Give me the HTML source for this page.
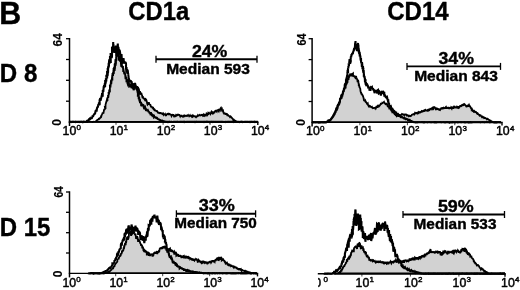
<!DOCTYPE html>
<html><head><meta charset="utf-8"><title>Figure B</title>
<style>
html,body{margin:0;padding:0;background:#fff;}
svg{display:block;}
text{font-family:'Liberation Sans', Arial, Helvetica, sans-serif;fill:#000;stroke:#000;stroke-width:0.4px;stroke-linejoin:round;}
.t{stroke-width:0.45px;font-weight:normal;}
.r{stroke-width:0.15px;}
</style></head>
<body>
<svg width="520" height="290">
<defs><clipPath id="c4"><rect x="318" y="274" width="40" height="16"/></clipPath></defs>
<rect width="520" height="290" fill="#fff"/>
<text transform="translate(-0.8,23.7) scale(0.98,1)" font-size="31" font-weight="bold" text-anchor="start" >B</text>
<text transform="translate(128.3,20.0) scale(0.952,1)" font-size="25" font-weight="bold" text-anchor="start" >CD1a</text>
<text transform="translate(387.2,20.0) scale(0.962,1)" font-size="25" font-weight="bold" text-anchor="start" >CD14</text>
<text transform="translate(-0.2,82.2) scale(0.92,1)" font-size="26.2" font-weight="bold" text-anchor="start" >D 8</text>
<text transform="translate(-0.3,235.5) scale(0.915,1)" font-size="26.2" font-weight="bold" text-anchor="start" >D 15</text>
<line x1="68.8" y1="122" x2="258.5" y2="122" stroke="#000" stroke-width="1.4"/>
<line x1="257.8" y1="122" x2="257.8" y2="125" stroke="#000" stroke-width="1.4"/>
<line x1="69.5" y1="38.0" x2="69.5" y2="126" stroke="#000" stroke-width="1.5"/>
<line x1="66.0" y1="38.7" x2="69.5" y2="38.7" stroke="#000" stroke-width="1.3"/>
<line x1="66.0" y1="59.5" x2="69.5" y2="59.5" stroke="#000" stroke-width="1.3"/>
<line x1="66.0" y1="80.3" x2="69.5" y2="80.3" stroke="#000" stroke-width="1.3"/>
<line x1="66.0" y1="101.2" x2="69.5" y2="101.2" stroke="#000" stroke-width="1.3"/>
<text x="62.6" y="135.3" font-size="12.3" class="t">10<tspan dx="0.2" dy="-4.9" font-size="8">0</tspan></text>
<line x1="116.0" y1="122" x2="116.0" y2="124.8" stroke="#000" stroke-width="1" stroke-opacity="0.75"/>
<text x="109.7" y="135.3" font-size="12.3" class="t">10<tspan dx="0.2" dy="-4.9" font-size="8">1</tspan></text>
<line x1="163.1" y1="122" x2="163.1" y2="124.8" stroke="#000" stroke-width="1" stroke-opacity="0.75"/>
<text x="156.8" y="135.3" font-size="12.3" class="t">10<tspan dx="0.2" dy="-4.9" font-size="8">2</tspan></text>
<line x1="210.1" y1="122" x2="210.1" y2="124.8" stroke="#000" stroke-width="1" stroke-opacity="0.75"/>
<text x="203.8" y="135.3" font-size="12.3" class="t">10<tspan dx="0.2" dy="-4.9" font-size="8">3</tspan></text>
<text x="250.9" y="135.3" font-size="12.3" class="t">10<tspan dx="0.2" dy="-4.9" font-size="8">4</tspan></text>
<polygon points="69.0,121.8 69.3,121.9 69.8,121.9 70.3,121.9 70.4,121.8 71.0,122.0 71.2,121.9 71.9,121.9 72.4,121.8 72.4,122.0 73.0,121.8 73.3,122.0 73.8,121.8 74.1,121.8 74.6,121.9 74.9,121.8 75.4,121.8 75.6,121.8 76.2,122.0 76.4,121.9 77.2,122.0 77.3,121.8 77.9,121.9 78.2,122.0 78.7,121.9 79.0,121.8 79.6,122.0 79.8,121.9 80.1,121.8 80.6,121.9 81.0,121.8 81.5,121.9 81.8,121.8 82.3,121.9 82.5,121.9 82.8,121.9 83.5,121.8 83.8,122.0 84.0,121.8 84.8,121.9 85.0,121.9 85.3,122.0 86.0,121.9 86.2,121.9 86.6,121.8 86.8,122.0 87.6,121.9 87.9,122.0 88.2,121.9 88.6,121.9 89.2,121.8 89.2,121.9 89.8,121.9 90.1,121.8 90.7,121.9 91.0,121.9 91.3,121.8 91.8,121.8 92.3,122.0 92.8,121.9 93.2,121.8 93.2,121.9 93.6,121.8 94.1,121.9 94.7,121.8 95.0,121.8 95.4,121.5 95.7,121.2 96.2,121.0 96.7,120.6 97.0,120.2 97.3,120.0 98.1,119.6 98.2,119.5 98.9,119.3 98.9,118.6 99.7,118.4 100.0,118.0 100.4,117.8 101.0,116.5 101.2,116.6 101.7,114.9 102.0,114.4 102.5,113.5 102.7,112.4 103.4,113.5 103.8,111.1 104.0,110.0 104.2,110.6 104.2,108.7 104.4,109.7 105.1,108.7 104.9,107.2 105.5,107.5 105.5,106.1 105.6,104.3 106.0,103.1 106.0,102.9 106.4,101.4 106.5,101.0 106.9,100.3 106.7,102.0 107.1,98.4 107.5,101.1 107.4,97.3 108.0,97.9 108.0,95.0 108.3,97.6 108.6,94.7 108.6,93.1 108.5,91.9 108.7,94.9 109.1,93.2 109.1,93.0 109.2,89.5 109.6,91.7 109.9,91.6 109.9,86.5 109.8,85.7 110.4,84.8 110.5,87.5 110.6,84.1 110.6,86.0 110.7,83.8 110.9,80.9 111.2,80.0 111.3,84.2 111.7,79.1 111.5,81.9 111.7,79.9 112.2,76.2 112.1,75.2 112.4,80.4 112.4,73.8 112.9,73.4 113.1,72.2 113.3,72.6 113.1,76.0 113.4,70.3 113.7,69.0 113.5,68.0 113.8,73.9 114.1,69.4 114.0,66.7 114.7,70.9 114.6,64.0 114.8,63.8 114.9,69.4 115.2,65.6 115.3,61.6 115.3,61.0 115.5,59.2 115.7,65.7 116.0,61.4 116.0,63.7 116.1,57.0 116.4,55.0 116.4,60.9 116.7,54.8 116.8,56.0 116.6,52.7 116.8,51.9 116.9,53.4 117.3,49.5 117.5,49.8 117.7,50.6 117.6,47.0 117.6,53.8 117.8,56.5 118.4,55.1 118.3,56.4 118.6,51.4 118.8,52.0 118.8,59.6 119.0,60.5 119.7,55.5 119.9,60.6 120.0,61.7 120.0,60.8 120.2,59.3 120.6,58.0 120.6,59.6 121.2,66.7 121.3,63.3 121.5,66.9 121.7,63.7 121.8,63.6 122.2,67.2 122.3,67.3 122.6,66.5 123.0,66.0 123.2,71.9 123.5,69.1 123.4,69.0 123.9,71.5 124.1,73.2 124.4,74.2 124.6,72.1 124.6,74.2 125.0,73.0 125.5,79.1 125.6,75.3 125.5,75.3 126.2,78.1 126.4,77.1 126.4,82.3 126.9,81.5 127.0,79.0 127.4,83.3 128.0,84.9 128.2,86.5 128.5,82.5 129.0,83.0 129.2,86.6 129.9,86.3 130.1,84.7 130.6,84.3 131.1,84.3 131.3,88.2 131.8,85.4 132.0,85.0 132.5,88.5 132.9,87.7 133.3,86.6 133.4,90.1 133.8,88.9 134.2,85.7 134.8,85.6 135.0,85.5 135.3,87.9 135.6,86.0 136.2,86.6 136.3,86.3 136.6,87.8 137.3,89.0 137.5,90.5 138.0,87.0 138.4,88.4 138.9,89.1 139.4,92.6 139.6,94.6 140.0,91.0 140.4,94.7 140.7,93.5 141.4,93.5 141.7,94.3 142.0,95.0 142.6,98.0 142.8,96.1 143.1,97.9 143.5,98.1 143.8,98.6 144.4,98.7 144.7,98.7 145.3,101.0 145.7,100.2 146.0,99.5 146.3,99.9 146.9,101.9 147.1,103.3 147.5,104.5 147.8,104.1 148.5,104.1 148.5,103.0 149.0,103.0 149.2,104.0 149.8,104.5 150.4,104.9 150.7,105.8 151.1,107.4 151.5,106.3 151.9,107.1 152.2,107.5 152.7,107.9 153.0,107.0 153.5,109.3 153.9,109.6 154.1,108.7 154.8,110.0 154.8,109.9 155.4,111.1 155.6,110.5 156.3,110.9 156.5,111.1 157.0,111.0 157.6,111.9 157.8,112.5 158.3,112.7 158.5,112.0 158.9,113.6 159.6,112.2 159.7,113.1 160.3,113.2 160.7,112.9 161.0,113.0 161.5,113.3 161.8,113.4 162.3,113.4 162.5,114.8 163.2,113.7 163.6,114.6 164.0,113.7 164.1,114.6 164.7,114.3 165.0,114.0 165.2,114.7 165.8,115.5 166.3,115.3 166.5,114.5 166.8,114.3 167.5,113.8 167.9,114.0 168.3,113.8 168.5,114.5 169.0,113.5 169.2,114.2 169.6,113.9 170.4,114.7 170.4,114.2 171.2,115.2 171.5,115.9 172.0,114.8 172.3,114.7 172.5,114.9 173.0,115.0 173.3,115.0 173.8,116.0 174.1,115.5 174.6,115.7 175.3,115.4 175.3,116.2 176.1,115.8 176.3,114.9 177.0,115.3 177.4,114.9 177.4,115.5 178.0,114.5 178.5,114.7 178.8,114.8 179.2,114.9 179.9,116.1 179.9,115.1 180.3,116.3 180.7,115.6 181.1,115.5 181.9,116.3 182.3,116.5 182.5,116.6 183.0,116.0 183.3,116.6 184.1,115.8 184.2,116.3 184.7,116.3 184.9,116.1 185.5,115.8 186.1,115.5 186.4,115.7 186.9,116.1 187.3,116.0 187.8,115.2 188.0,115.0 188.6,116.2 188.6,115.1 189.2,116.2 189.8,115.6 190.0,115.3 190.2,115.8 190.9,115.8 191.0,116.7 191.4,116.1 191.8,116.6 192.3,115.7 192.7,116.6 193.3,115.9 193.8,116.9 194.0,116.0 194.4,116.1 194.7,116.1 195.4,116.7 195.4,116.3 196.0,116.4 196.5,116.9 196.9,116.6 197.4,116.0 197.5,116.4 197.9,115.4 198.2,115.8 198.8,115.5 199.4,115.1 199.5,115.8 200.0,115.0 200.5,115.2 200.8,115.4 201.4,114.9 201.5,115.0 202.2,114.7 202.6,115.1 203.0,115.9 203.4,115.6 203.8,115.8 204.0,114.4 204.6,114.9 204.9,115.3 205.1,115.1 205.7,115.5 206.0,114.0 206.4,115.5 206.6,113.8 207.2,114.5 207.4,114.9 208.1,113.7 208.2,113.2 208.7,113.7 209.1,113.0 209.6,113.7 209.8,112.7 210.5,113.9 211.0,112.5 211.1,112.3 211.7,113.6 212.0,112.0 212.6,112.7 212.8,113.2 213.2,112.5 213.7,113.0 214.2,112.2 214.3,112.9 214.9,110.8 215.2,111.8 215.6,110.9 216.0,110.0 216.1,110.8 216.7,111.5 217.0,109.8 217.3,110.8 217.8,109.5 218.4,111.1 218.6,111.3 219.0,109.0 219.4,109.6 220.0,110.3 220.3,108.9 220.5,108.4 221.0,107.8 221.6,109.3 221.9,109.0 222.3,111.7 222.5,110.8 223.0,110.5 223.5,112.8 224.0,113.3 224.1,113.6 224.7,113.3 225.0,113.3 225.3,114.0 225.6,114.1 226.1,114.1 226.3,113.9 227.1,114.2 227.1,114.9 227.5,115.9 228.0,114.5 228.4,115.6 228.8,115.9 229.2,116.0 229.7,116.7 230.0,115.6 230.3,117.3 230.7,116.6 231.4,117.4 231.7,117.8 232.0,118.0 232.6,118.8 232.8,119.1 233.4,119.3 233.4,120.2 234.0,120.0 234.2,120.5 234.6,120.5 235.3,120.7 235.6,121.1 235.7,121.2 236.3,121.4 236.6,121.6 237.0,121.8 237.2,122.0 238.0,121.8 238.2,121.8 238.8,121.8 238.9,122.0 239.7,121.9 239.7,121.9 240.2,121.9 240.4,121.9 241.2,122.0 241.7,122.0 241.9,121.8 242.4,121.9 242.6,122.0 243.2,121.8 243.4,121.8 244.0,121.8 244.6,121.9 244.8,121.9 245.1,121.8 245.7,121.8 246.0,121.8 246.4,121.8 246.9,121.8 247.4,121.8 247.6,121.9 247.9,121.8 248.5,121.9 249.0,121.9 249.2,121.8 249.4,121.8 249.9,121.8 250.4,121.8 250.8,121.9 251.1,121.9 251.6,121.8 252.0,122.0 252.2,121.8 252.9,121.8 253.1,121.8 253.8,121.9 254.1,121.8 254.2,121.9 254.6,121.8 255.3,121.8 255.4,121.9 256.1,121.8 256.3,121.8 256.6,121.8 257.0,121.8 257.8,121.8 258.0,121.8" fill="#d2d2d2" stroke="#000" stroke-width="1.8" stroke-linejoin="miter" stroke-miterlimit="2.5"/>
<polyline points="69.0,121.8 69.5,121.8 69.7,121.8 70.1,122.0 70.6,121.9 71.0,121.9 71.6,121.8 71.7,121.8 72.1,121.8 72.8,121.8 72.9,121.8 73.7,121.8 73.9,121.8 74.3,121.8 74.8,121.8 75.1,121.9 75.5,122.0 75.7,121.8 76.3,122.0 76.9,121.8 77.2,121.9 77.4,122.0 78.1,121.8 78.4,121.8 78.8,121.8 79.3,121.9 79.5,122.0 79.8,121.8 80.3,121.9 80.9,121.8 81.2,121.9 81.4,121.8 81.9,121.8 82.3,121.8 82.9,121.8 83.0,122.0 83.4,121.8 84.2,121.9 84.5,121.8 84.5,121.8 85.1,121.9 85.6,121.8 86.0,121.8 86.4,121.5 86.7,121.2 87.0,120.8 87.6,120.5 88.2,120.3 88.5,120.1 88.6,120.3 89.0,119.2 89.6,119.0 90.0,118.5 90.2,119.1 90.7,118.6 91.0,118.3 91.7,118.2 92.0,117.9 92.6,116.2 92.6,116.1 93.2,116.0 93.4,115.4 94.0,114.5 94.2,114.2 94.9,113.4 95.1,113.4 95.4,111.8 95.7,110.7 96.1,110.4 96.7,110.5 97.0,108.0 97.2,107.8 97.8,106.4 97.8,107.6 97.9,106.7 98.4,104.2 98.7,105.4 99.0,102.3 99.3,104.8 99.7,104.2 99.6,100.2 100.0,99.0 100.5,99.1 100.5,100.8 101.0,98.7 100.9,98.9 101.1,98.5 101.8,95.1 101.7,97.1 102.1,93.2 102.4,95.6 102.7,95.6 102.8,90.0 103.0,90.2 103.2,90.1 103.3,91.8 103.7,86.7 103.8,86.6 104.2,85.2 104.1,84.9 104.4,87.7 104.8,83.3 104.7,83.2 105.1,87.0 105.2,80.0 105.4,84.0 105.5,83.4 105.8,82.2 105.9,78.3 106.3,80.8 106.3,81.5 106.4,74.7 106.3,77.6 106.9,75.0 107.1,78.4 107.1,71.4 107.3,76.5 107.1,70.9 107.7,75.7 107.7,68.0 108.0,73.2 108.1,71.3 108.1,66.9 108.2,66.4 108.3,67.0 108.5,68.2 108.7,62.9 108.9,63.5 108.9,66.7 109.1,60.8 109.5,59.8 109.3,58.7 109.8,61.2 109.9,63.5 110.0,56.0 110.2,60.9 110.6,58.1 110.8,63.0 110.6,53.1 110.7,54.2 110.9,57.4 111.3,58.4 111.4,54.0 111.7,57.7 112.0,56.3 112.0,47.0 112.1,49.4 112.4,53.2 112.7,46.1 112.6,46.9 113.0,50.8 113.2,42.0 113.3,52.3 113.5,44.4 113.8,51.1 113.7,50.2 113.8,48.1 114.4,48.6 114.4,49.1 114.5,48.0 114.7,53.0 115.3,47.4 115.9,46.5 116.0,45.5 116.3,54.8 116.7,54.9 117.4,48.7 117.8,43.5 118.1,53.9 118.1,48.3 118.4,47.0 118.6,48.6 118.8,54.8 118.8,53.2 119.4,49.6 119.5,50.0 119.8,50.8 120.2,53.5 120.6,56.2 121.2,58.0 121.5,54.0 121.8,58.8 122.2,62.7 122.7,63.6 123.1,61.6 123.5,58.0 124.0,62.5 124.4,61.3 124.7,62.9 125.1,63.1 125.5,62.0 125.9,63.2 126.0,63.8 126.0,69.8 126.2,69.2 126.3,72.7 126.5,67.1 126.8,72.3 127.3,69.6 127.4,74.0 127.5,70.0 127.8,70.8 128.0,72.9 128.1,74.3 128.3,73.3 128.2,74.3 128.6,77.1 128.7,79.9 128.6,82.5 128.6,77.7 129.1,82.1 129.0,79.0 129.5,82.3 129.9,80.5 130.0,80.7 130.6,80.7 131.0,81.0 131.5,83.1 131.8,82.9 132.2,85.6 132.7,83.9 133.0,84.0 133.5,88.2 133.9,88.5 134.3,85.4 134.7,84.2 135.0,83.0 135.6,85.7 136.0,87.5 136.4,89.6 136.7,88.2 137.0,86.0 137.2,90.8 137.2,88.0 137.6,89.0 137.5,91.7 137.9,93.1 138.0,91.0 137.9,96.8 138.3,93.0 138.6,97.0 138.6,95.1 138.6,94.9 138.8,99.1 138.9,97.5 139.0,97.0 139.6,101.4 139.8,99.0 140.1,103.3 140.3,101.7 140.7,102.4 141.0,102.0 141.3,106.2 141.6,104.4 142.0,105.2 142.5,104.6 143.0,105.0 143.4,105.2 143.9,107.8 144.4,109.0 144.6,107.5 145.0,107.0 145.5,108.6 145.8,109.5 146.1,109.3 146.5,109.5 146.7,111.1 147.5,109.7 147.7,110.9 148.0,110.5 148.6,111.8 148.7,112.3 149.0,111.6 149.7,113.3 149.9,112.5 150.3,113.6 150.8,113.0 151.0,113.0 151.3,114.5 151.6,114.9 152.2,114.8 152.4,115.4 152.7,115.0 153.1,115.3 153.7,116.1 154.0,116.0 154.1,117.2 154.6,116.8 155.2,117.2 155.5,117.6 155.8,117.5 156.1,117.5 156.7,118.1 157.0,118.0 157.2,118.3 157.7,118.8 158.2,119.1 158.6,119.4 159.0,119.5 159.1,119.7 159.5,119.8 160.0,120.0 160.5,120.4 160.6,120.8 161.0,120.9 161.8,120.9 162.1,120.6 162.4,120.8 163.0,121.0 163.1,121.0 163.6,121.3 163.9,121.4 164.2,121.5 164.7,121.4 165.1,121.7 165.5,121.7 166.0,121.8 166.3,121.9 166.7,121.9 167.4,122.0 167.4,121.9 168.1,121.9 168.4,121.9 169.0,121.9 169.0,121.9 169.7,121.9 170.2,121.9 170.2,121.8 170.6,121.9 171.4,121.8 171.8,121.8 172.1,121.9 172.2,121.8 173.0,122.0 173.2,122.0 173.7,121.8 173.8,121.8 174.4,121.8 174.7,121.8 175.4,122.0 175.6,122.0 175.8,121.9 176.6,121.9 177.0,121.9 177.1,121.9 177.5,121.8 178.0,121.9 178.6,121.9 178.6,121.8 179.3,122.0 179.7,121.8 180.1,121.9 180.3,121.8 180.9,121.9 181.4,121.8 181.8,121.8 182.0,121.8 182.5,122.0 183.0,121.9 183.2,121.9 183.6,121.9 184.1,122.0 184.3,121.8 184.6,122.0 185.2,121.8 185.8,121.9 186.1,122.0 186.4,121.9 186.9,122.0 187.3,121.8 187.5,121.8 188.2,121.8 188.3,121.8 188.7,121.9 189.1,121.9 189.7,121.9 190.2,121.9 190.5,121.9 190.7,121.8 191.4,121.8 191.5,121.9 192.2,121.9 192.6,121.9 193.0,121.9 193.1,121.9 193.5,121.8 194.0,121.8 194.3,122.0 194.7,121.8 195.0,121.9 195.8,121.9 195.9,122.0 196.5,121.8 196.6,121.9 197.3,121.8 197.6,121.8 198.2,121.9 198.3,121.8 198.9,121.8 199.4,121.8 199.6,121.9 200.2,121.8 200.4,121.8 200.9,121.9 201.0,121.8 201.7,121.8 202.2,121.8 202.4,122.0 202.9,122.0 203.2,121.8 203.6,121.8 204.0,122.0 204.3,121.9 204.7,121.9 205.2,122.0 205.6,121.8 205.9,121.8 206.4,121.9 206.7,121.9 207.4,121.9 207.4,121.8 208.2,121.9 208.3,121.9 209.0,121.8 209.3,121.8 209.4,121.9 210.2,121.9 210.2,122.0 210.7,121.8 211.4,121.8 211.5,121.8 212.0,122.0 212.2,121.8 212.7,121.8 213.2,122.0 213.5,121.9 214.2,121.8 214.5,121.8 214.8,121.8 215.1,121.9 215.6,121.9 215.8,121.9 216.3,121.8 216.7,121.8 217.3,121.9 217.4,121.8 218.0,121.9 218.2,121.9 218.9,121.8 219.2,121.8 219.4,121.8 219.9,121.9 220.6,121.9 221.0,121.9 221.0,121.8 221.5,121.8 221.8,121.9 222.3,121.9 222.7,121.8 223.0,121.8 223.4,122.0 224.0,122.0 224.2,122.0 224.9,121.9 225.3,121.8 225.6,122.0 226.1,121.8 226.4,121.9 226.7,122.0 227.2,121.9 227.4,121.8 228.2,121.9 228.6,121.8 228.8,121.8 229.0,121.8 229.8,121.9 229.8,121.9 230.2,121.9 230.9,121.9 231.1,121.8 231.5,121.8 232.1,121.8 232.2,121.8 232.6,121.8 233.2,121.9 233.6,121.9 233.8,122.0 234.4,121.8 234.7,121.8 235.2,121.9 235.7,121.9 236.0,121.9 236.2,122.0 236.9,121.9 237.0,121.9 237.5,121.8 237.9,121.9 238.4,121.8 238.9,121.8 239.3,122.0 239.6,121.9 240.0,121.8 240.3,121.9 241.0,121.8 241.1,121.8 241.8,121.9 242.0,121.8 242.4,122.0 242.7,121.8 243.0,121.9 243.7,122.0 243.8,122.0 244.3,121.8 244.8,121.9 245.0,121.9 245.4,122.0 245.8,121.8 246.2,121.8 246.7,121.9 247.1,121.8 247.6,121.9 248.0,121.8 248.4,121.9 248.6,121.9 249.3,121.9 249.5,122.0 250.1,121.8 250.6,122.0 250.7,121.9 251.0,122.0 251.8,121.9 252.1,121.9 252.5,121.9 252.9,121.8 253.0,121.8 253.5,121.8 254.1,121.8 254.6,122.0 254.8,121.8 255.2,121.8 255.8,121.8 255.8,121.9 256.3,121.8 256.8,121.9 257.1,122.0 257.6,121.8 258.0,121.8" fill="none" stroke="#000" stroke-width="2.1" stroke-linejoin="miter" stroke-miterlimit="2.5"/>
<text class="r" transform="translate(61.8,46.5) rotate(-90) scale(1.0,1)" font-size="12" font-weight="bold" text-anchor="start">64</text>
<text class="r" transform="translate(61.3,125.8) rotate(-90) scale(1.0,1)" font-size="12" font-weight="bold" text-anchor="start">0</text>
<line x1="156" y1="59.3" x2="257" y2="59.3" stroke="#000" stroke-width="1.9"/>
<line x1="156" y1="55.8" x2="156" y2="62.8" stroke="#000" stroke-width="1.3"/>
<line x1="257" y1="55.8" x2="257" y2="62.8" stroke="#000" stroke-width="1.3"/>
<text transform="translate(209.6,56.5) scale(1.03,1)" font-size="17.2" font-weight="bold" text-anchor="middle" >24%</text>
<text transform="translate(208,74.1) scale(1.05,1)" font-size="14.8" font-weight="bold" text-anchor="middle" >Median 593</text>
<line x1="311.40000000000003" y1="122.4" x2="502.7" y2="122.4" stroke="#000" stroke-width="1.4"/>
<line x1="502.0" y1="122.4" x2="502.0" y2="125.4" stroke="#000" stroke-width="1.4"/>
<line x1="312.1" y1="38.0" x2="312.1" y2="126.4" stroke="#000" stroke-width="1.5"/>
<line x1="308.6" y1="38.7" x2="312.1" y2="38.7" stroke="#000" stroke-width="1.3"/>
<line x1="308.6" y1="59.6" x2="312.1" y2="59.6" stroke="#000" stroke-width="1.3"/>
<line x1="308.6" y1="80.6" x2="312.1" y2="80.6" stroke="#000" stroke-width="1.3"/>
<line x1="308.6" y1="101.5" x2="312.1" y2="101.5" stroke="#000" stroke-width="1.3"/>
<text x="306.1" y="135.4" font-size="12.3" class="t">10<tspan dx="0.2" dy="-4.9" font-size="8">0</tspan></text>
<line x1="359.9" y1="122.4" x2="359.9" y2="125.2" stroke="#000" stroke-width="1" stroke-opacity="0.75"/>
<text x="353.6" y="135.4" font-size="12.3" class="t">10<tspan dx="0.2" dy="-4.9" font-size="8">1</tspan></text>
<line x1="407.4" y1="122.4" x2="407.4" y2="125.2" stroke="#000" stroke-width="1" stroke-opacity="0.75"/>
<text x="401.1" y="135.4" font-size="12.3" class="t">10<tspan dx="0.2" dy="-4.9" font-size="8">2</tspan></text>
<line x1="454.8" y1="122.4" x2="454.8" y2="125.2" stroke="#000" stroke-width="1" stroke-opacity="0.75"/>
<text x="448.5" y="135.4" font-size="12.3" class="t">10<tspan dx="0.2" dy="-4.9" font-size="8">3</tspan></text>
<text x="496.0" y="135.4" font-size="12.3" class="t">10<tspan dx="0.2" dy="-4.9" font-size="8">4</tspan></text>
<polygon points="312.0,122.2 312.2,122.2 312.9,122.4 313.1,122.3 313.6,122.3 313.8,122.3 314.3,122.3 315.0,122.3 315.2,122.4 315.4,122.3 315.7,122.2 316.3,122.3 316.9,122.2 317.2,122.3 317.3,122.2 317.7,122.2 318.6,122.3 318.6,122.3 319.3,122.4 319.7,122.3 320.0,122.3 320.5,122.2 320.5,122.4 321.2,122.3 321.5,122.3 322.1,122.3 322.4,122.3 322.8,122.2 323.0,122.4 323.7,122.3 323.8,122.3 324.1,122.2 324.5,122.3 324.9,122.4 325.3,122.4 325.9,122.4 326.2,122.3 326.6,122.3 327.0,122.2 327.6,122.0 327.6,121.8 328.3,121.5 328.4,121.3 328.8,121.0 329.3,120.7 330.0,120.3 330.2,120.1 330.5,120.1 331.0,119.5 331.5,119.1 331.7,118.4 332.2,117.8 332.7,117.3 333.0,116.7 333.1,116.1 333.5,116.2 334.0,115.0 334.1,114.4 334.6,114.4 335.0,112.6 335.6,112.3 335.7,110.9 336.2,110.1 336.7,110.2 337.0,109.7 337.4,108.8 337.5,107.3 338.0,106.0 338.3,105.2 338.4,105.8 338.8,104.4 339.0,103.4 339.4,103.8 339.8,102.1 340.1,100.4 340.2,99.7 340.5,98.8 341.0,98.0 341.5,98.0 341.8,98.5 341.8,95.9 342.2,95.2 342.5,95.3 342.5,94.8 343.0,93.2 343.0,91.8 343.5,91.0 343.6,91.8 343.9,89.5 344.2,88.9 344.6,88.9 345.0,87.6 345.4,86.6 345.6,88.4 345.7,85.6 346.0,84.0 346.3,84.0 346.3,82.7 346.7,84.0 347.2,82.1 347.1,81.8 347.4,82.8 347.8,78.8 348.0,78.0 348.5,79.9 348.8,76.6 349.2,76.8 349.6,75.5 350.0,74.5 350.6,75.1 350.9,74.3 351.2,74.4 351.5,74.8 351.8,76.2 352.1,73.9 352.8,73.7 353.0,73.5 353.1,75.9 353.9,76.0 354.1,76.6 354.5,75.4 354.8,77.6 355.2,76.7 355.8,79.0 356.0,76.0 356.3,77.3 356.7,78.7 357.3,79.3 357.6,82.1 358.0,80.0 358.4,81.4 358.4,81.7 358.4,82.4 359.0,85.8 358.8,85.5 359.1,85.2 359.5,87.2 359.6,87.2 359.8,87.3 360.0,88.0 360.3,88.9 360.5,91.2 360.9,92.7 361.2,92.7 361.6,94.6 361.6,93.8 361.9,94.3 362.6,95.5 362.7,95.4 363.0,96.0 363.6,98.1 363.7,98.8 364.0,100.3 364.6,100.3 365.1,101.1 365.3,100.7 365.7,101.7 366.0,102.0 366.4,102.4 367.0,103.9 367.4,104.1 367.8,103.6 368.1,105.1 368.6,105.9 369.0,104.8 369.0,106.3 369.6,106.6 370.0,106.0 370.5,106.3 370.7,106.8 371.2,107.2 371.8,106.9 371.8,107.0 372.6,107.7 372.9,108.2 373.3,108.1 373.5,108.1 374.0,108.0 374.5,107.8 374.9,107.7 375.2,108.4 375.7,108.0 375.8,108.2 376.3,106.9 376.7,107.1 377.2,106.4 377.5,107.7 378.0,106.0 378.6,106.1 378.8,105.5 379.1,105.4 379.3,106.0 379.8,105.4 380.4,104.6 380.6,104.3 381.0,103.0 381.3,103.8 381.9,103.4 382.2,103.9 382.4,102.8 382.7,102.9 383.5,102.5 383.8,102.2 384.0,102.0 384.2,102.6 384.6,103.0 385.0,103.3 385.7,104.5 385.9,103.7 386.2,105.1 386.5,103.8 387.0,104.0 387.3,104.9 387.6,106.2 388.2,106.7 388.7,106.4 389.1,106.8 389.3,108.4 389.8,108.3 390.0,108.0 390.6,109.7 391.0,109.9 391.3,109.7 391.5,110.7 391.8,110.8 392.3,112.2 393.0,111.9 393.4,112.1 393.4,112.5 394.0,113.0 394.6,114.2 394.8,114.3 395.1,114.3 395.5,114.9 396.1,114.6 396.3,114.8 396.6,115.9 397.1,115.4 397.6,115.8 398.0,116.0 398.3,115.9 398.7,116.0 399.3,115.6 399.4,115.2 400.0,115.7 400.2,115.4 401.0,114.9 401.3,114.6 401.5,114.6 402.0,114.0 402.5,114.3 403.0,114.3 403.2,114.6 403.8,114.6 404.2,115.2 404.4,114.6 404.6,114.7 405.4,114.4 405.8,114.5 406.0,114.5 406.3,114.7 406.6,115.4 407.1,115.0 407.4,115.2 407.8,115.7 408.5,116.2 409.0,115.6 409.2,115.8 409.4,116.2 410.0,116.0 410.6,115.8 410.8,116.1 411.4,115.7 411.7,115.0 411.9,114.8 412.4,114.5 412.8,114.3 413.4,114.2 414.0,114.5 414.2,114.1 414.4,114.2 415.0,113.0 415.3,113.4 415.7,113.1 416.2,113.0 416.8,112.9 417.1,113.4 417.4,112.8 418.2,113.1 418.4,112.4 418.8,112.9 419.2,112.2 419.4,112.2 420.0,112.0 420.5,112.4 420.8,112.3 421.4,111.5 421.8,112.2 421.9,111.7 422.3,111.1 422.9,111.4 423.6,110.8 423.9,111.7 424.1,110.7 424.7,110.3 425.0,110.0 425.5,111.0 425.8,110.2 426.2,110.5 426.5,110.4 427.0,110.4 427.4,110.7 427.9,109.7 428.3,109.6 428.6,110.5 429.3,110.1 429.6,110.0 430.0,109.0 430.3,109.2 430.8,108.7 431.2,108.5 431.5,108.8 432.1,108.1 432.3,109.0 432.9,108.3 433.3,108.7 433.5,107.4 434.0,107.0 434.6,107.2 434.7,107.5 435.1,107.8 435.5,108.7 436.0,108.4 436.2,109.3 436.6,109.0 437.3,108.7 437.4,109.1 438.0,109.0 438.4,109.6 439.0,109.8 439.1,108.8 439.8,110.0 440.1,108.6 440.4,109.6 440.8,109.1 441.1,108.3 441.7,108.1 442.0,108.0 442.4,108.2 442.7,109.2 443.1,108.2 443.5,107.7 444.2,108.1 444.6,107.4 444.6,108.1 445.2,108.1 445.4,107.6 446.0,107.0 446.4,108.1 446.9,108.1 447.0,107.4 447.4,107.9 447.9,107.6 448.5,108.2 449.0,108.4 449.2,107.8 449.7,107.9 450.0,108.0 450.5,108.1 451.0,108.2 451.1,107.8 451.7,108.7 452.1,107.3 452.6,107.4 453.0,107.7 453.2,108.1 453.4,108.1 454.0,106.5 454.5,106.6 454.9,108.2 455.0,107.9 455.7,107.3 456.0,107.2 456.2,107.9 456.8,106.9 457.4,108.4 457.5,107.8 458.0,107.0 458.5,107.0 458.8,107.9 459.0,107.8 459.4,106.9 459.8,106.2 460.4,105.8 460.7,106.1 461.0,106.2 461.6,105.8 462.0,105.0 462.4,104.8 462.7,104.9 463.2,105.8 463.6,104.4 464.0,103.5 464.5,105.2 464.8,104.6 465.1,105.1 465.7,105.5 466.0,106.0 466.3,106.5 466.7,106.2 467.0,106.0 467.6,105.6 468.0,106.9 468.0,106.0 468.8,105.4 469.0,105.0 469.5,106.2 469.9,106.2 470.3,106.8 470.6,107.5 470.9,108.1 471.5,108.4 471.6,109.4 472.0,109.0 472.5,110.2 472.6,110.9 473.3,110.5 473.8,110.6 473.9,111.7 474.5,111.4 474.7,111.8 475.1,112.2 475.7,111.8 476.0,112.0 476.6,112.7 476.8,113.4 477.2,113.8 477.7,113.4 478.2,114.2 478.5,114.3 478.6,114.3 479.0,114.7 479.5,115.5 480.0,115.0 480.6,115.3 480.6,115.6 481.2,116.1 481.6,116.7 481.8,116.3 482.4,116.5 482.6,117.2 483.2,117.1 483.8,117.8 484.0,117.5 484.3,117.9 484.6,118.1 485.4,118.0 485.7,118.3 485.9,118.4 486.4,118.6 487.0,118.6 487.0,119.2 487.8,118.9 488.0,119.0 488.3,119.5 488.9,119.9 489.1,119.9 489.7,120.2 489.9,120.4 490.6,120.6 491.1,121.1 491.5,121.2 491.6,121.4 491.9,121.8 492.7,121.9 493.0,122.2 493.6,122.2 494.0,122.2 494.2,122.2 494.4,122.3 494.8,122.4 495.6,122.3 496.0,122.3 496.0,122.2 496.4,122.3 497.0,122.3 497.3,122.3 498.0,122.2 498.2,122.2 498.6,122.2 498.8,122.3 499.3,122.2 499.6,122.3 500.3,122.2 500.8,122.3 501.0,122.2" fill="#d2d2d2" stroke="#000" stroke-width="1.8" stroke-linejoin="miter" stroke-miterlimit="2.5"/>
<polyline points="312.0,122.2 312.6,122.2 312.8,122.2 313.0,122.4 313.7,122.3 313.9,122.2 314.4,122.3 314.6,122.3 315.0,122.2 315.8,122.3 316.1,122.3 316.5,122.2 316.7,122.2 317.3,122.3 317.4,122.3 317.9,122.2 318.6,122.2 319.0,122.2 319.0,122.4 319.6,122.2 320.0,122.2 320.2,122.4 320.6,122.3 321.4,122.3 321.4,122.2 322.0,122.2 322.2,122.2 323.0,122.3 323.1,122.2 323.4,122.3 323.8,122.3 324.6,122.3 324.8,122.2 325.0,122.3 325.8,122.2 326.0,122.2 326.6,122.1 326.9,121.7 327.2,121.5 327.7,121.3 327.8,121.1 328.6,120.8 328.8,120.6 329.5,120.3 329.4,120.2 330.0,120.1 330.5,119.5 330.8,119.1 331.3,118.4 331.8,117.8 332.1,117.3 332.4,117.3 332.6,116.7 333.1,116.2 333.5,115.0 333.8,114.5 334.2,114.3 334.4,113.2 334.8,112.8 335.6,110.9 335.9,110.2 336.1,110.9 336.2,108.5 336.7,107.8 337.4,107.7 337.5,106.0 337.6,106.0 338.1,104.4 338.2,104.8 338.8,103.4 338.9,103.5 339.1,103.2 339.7,101.8 339.9,101.6 340.0,98.9 340.5,98.0 340.6,98.5 340.9,98.3 341.2,95.7 341.6,95.7 341.7,94.8 342.4,94.3 342.7,93.7 343.0,91.8 343.0,91.0 343.2,91.4 343.2,92.3 343.7,90.3 344.0,88.4 343.9,89.2 344.3,88.3 344.6,86.7 344.8,84.8 345.0,84.0 345.4,83.6 345.5,84.7 345.4,84.7 345.9,82.5 346.0,82.1 346.0,79.3 346.2,80.3 346.5,77.7 346.8,78.1 347.0,76.0 347.2,75.9 347.4,74.4 347.5,75.5 347.6,77.2 347.4,72.1 347.7,71.6 347.6,70.7 347.6,69.7 348.1,73.1 348.0,68.0 348.2,68.6 348.4,67.4 348.3,66.1 348.4,66.6 349.0,65.4 348.7,63.2 348.8,66.0 349.4,62.2 349.2,63.2 349.5,60.0 349.9,60.0 350.1,63.7 350.5,62.4 350.7,61.5 350.5,61.5 350.9,56.4 351.2,57.3 351.5,54.0 351.8,54.5 352.3,53.1 352.8,54.2 353.0,52.3 353.5,51.2 354.0,49.0 354.3,48.6 354.1,50.5 354.4,49.5 354.7,47.5 354.9,49.1 354.8,48.0 355.0,45.8 355.2,42.6 355.5,43.7 355.5,41.0 355.5,44.0 355.8,46.3 355.8,45.6 356.5,44.0 356.3,44.8 356.4,45.8 357.1,50.8 357.0,47.0 357.2,51.3 357.5,45.7 357.5,45.8 357.7,44.8 358.0,43.0 358.2,48.9 358.4,44.6 358.4,45.5 358.6,51.2 358.8,52.4 358.6,48.7 359.0,50.4 359.0,50.1 359.2,54.1 359.4,53.8 359.5,52.0 359.8,53.1 359.7,56.5 359.9,54.5 360.5,57.1 360.3,56.2 360.6,59.5 361.1,61.5 361.0,58.0 361.0,60.6 361.3,63.4 361.7,62.0 361.8,66.2 362.2,66.5 362.1,62.9 362.5,67.8 362.4,69.2 363.0,67.0 363.0,66.0 363.0,71.5 363.4,67.7 363.2,70.5 363.4,72.9 363.5,70.3 363.7,71.0 363.9,74.9 363.8,76.9 363.9,73.8 364.1,76.1 364.4,77.4 364.5,76.0 364.9,79.6 364.8,77.7 365.0,82.1 365.2,79.5 365.6,80.0 365.4,82.4 365.8,84.9 366.0,82.0 366.3,86.3 366.6,83.6 367.2,84.4 367.8,85.8 368.0,86.0 368.2,87.4 368.7,87.3 369.3,87.4 369.5,90.7 370.0,88.0 370.4,90.8 370.9,87.6 371.0,87.7 371.8,87.2 372.0,87.0 372.5,88.9 372.9,88.1 373.3,90.4 373.5,89.0 374.0,90.6 374.3,90.6 374.5,93.2 375.0,91.0 375.6,90.9 375.7,91.2 376.3,91.1 376.6,91.7 377.1,90.5 377.3,92.6 377.5,90.4 378.0,90.0 378.3,93.4 378.6,93.7 379.3,92.7 379.5,93.1 379.8,91.9 380.5,92.9 380.9,95.6 381.0,93.0 381.3,92.6 381.6,92.2 382.1,93.1 382.5,92.8 383.0,91.0 383.6,92.0 383.9,93.7 384.3,93.5 384.4,96.6 385.0,95.0 385.5,96.3 385.7,97.2 386.3,97.7 386.6,97.4 387.0,97.0 387.2,97.8 387.6,100.2 387.7,99.3 388.0,101.1 388.3,100.9 388.5,102.8 388.8,104.3 389.0,103.0 389.2,105.0 389.9,106.6 390.0,106.7 390.8,106.2 391.0,107.0 391.5,108.1 391.9,108.4 392.4,108.6 392.4,109.9 393.1,110.0 393.3,110.3 393.9,111.8 394.0,111.0 394.6,112.0 394.8,111.6 395.4,112.3 395.4,112.6 396.2,112.6 396.4,113.9 396.9,113.1 397.1,114.4 397.5,114.1 398.0,114.0 398.2,114.4 398.6,115.6 399.4,115.6 399.5,115.3 400.1,115.6 400.5,116.7 400.8,116.4 401.3,116.6 401.5,116.8 402.0,117.0 402.5,118.0 402.6,117.4 403.1,117.8 403.7,117.9 404.0,118.4 404.7,118.3 404.8,118.2 405.3,118.8 405.5,119.1 406.1,118.7 406.5,119.0 407.0,119.0 407.6,119.7 407.7,119.6 408.0,119.8 408.7,119.7 408.8,119.9 409.1,120.4 409.5,120.3 410.2,120.8 410.3,120.6 410.7,121.1 411.4,121.1 411.7,121.2 411.9,121.4 412.3,121.6 412.7,121.7 413.4,121.9 413.7,122.1 414.0,122.2 414.6,122.3 414.8,122.3 415.4,122.4 415.4,122.2 415.7,122.2 416.1,122.2 416.7,122.2 417.1,122.2 417.6,122.4 418.0,122.2 418.5,122.2 418.7,122.3 419.3,122.3 419.7,122.2 419.7,122.2 420.1,122.2 420.5,122.3 421.0,122.3 421.6,122.2 421.7,122.3 422.1,122.3 422.7,122.2 423.2,122.4 423.6,122.3 423.9,122.4 424.3,122.2 424.7,122.3 425.0,122.2 425.2,122.2 425.9,122.3 426.1,122.3 426.6,122.3 426.8,122.3 427.4,122.4 427.7,122.3 428.2,122.3 428.7,122.3 429.1,122.2 429.2,122.3 429.6,122.3 430.4,122.2 430.5,122.2 431.2,122.2 431.3,122.4 432.0,122.3 432.1,122.3 432.4,122.2 432.8,122.2 433.4,122.3 434.0,122.2 434.2,122.4 434.8,122.2 435.1,122.3 435.5,122.2 435.6,122.3 436.1,122.2 436.5,122.2 436.9,122.4 437.2,122.2 437.8,122.2 438.0,122.3 438.5,122.3 439.0,122.2 439.2,122.2 439.8,122.3 440.2,122.2 440.7,122.3 441.1,122.4 441.6,122.2 441.6,122.2 442.1,122.2 442.5,122.2 442.9,122.3 443.5,122.3 444.0,122.4 444.1,122.2 444.8,122.4 444.8,122.4 445.4,122.2 445.8,122.2 446.1,122.4 446.5,122.3 447.0,122.3 447.2,122.2 448.0,122.3 448.0,122.2 448.7,122.2 449.2,122.3 449.4,122.3 450.0,122.3 450.0,122.4 450.4,122.2 451.2,122.2 451.4,122.4 451.9,122.3 452.1,122.3 452.5,122.4 452.8,122.2 453.5,122.3 453.9,122.4 454.1,122.2 454.8,122.2 454.9,122.2 455.5,122.3 455.6,122.2 456.1,122.2 456.4,122.3 457.0,122.3 457.3,122.3 457.6,122.4 458.1,122.4 458.6,122.3 459.0,122.3 459.2,122.3 459.8,122.3 460.0,122.3 460.4,122.3 460.8,122.2 461.2,122.4 461.6,122.3 462.1,122.3 462.7,122.3 463.0,122.3 463.2,122.3 463.7,122.2 464.3,122.3 464.5,122.2 464.9,122.3 465.3,122.2 465.6,122.2 466.1,122.4 466.5,122.3 467.2,122.3 467.5,122.2 467.9,122.4 468.3,122.2 468.4,122.3 469.1,122.3 469.6,122.2 469.6,122.4 470.2,122.3 470.6,122.2 470.9,122.4 471.6,122.3 472.0,122.4 472.4,122.2 472.5,122.2 473.2,122.2 473.4,122.3 473.8,122.3 474.0,122.3 474.5,122.3 475.2,122.2 475.6,122.2 475.8,122.3 476.1,122.3 476.8,122.2 477.1,122.3 477.2,122.3 478.0,122.3 478.3,122.2 478.8,122.2 478.8,122.3 479.5,122.3 479.8,122.3 480.3,122.4 480.8,122.3 481.1,122.3 481.5,122.3 481.8,122.3 482.0,122.3 482.7,122.3 482.8,122.2 483.5,122.3 483.6,122.3 484.3,122.4 484.4,122.3 485.0,122.2 485.6,122.2 485.6,122.2 486.1,122.3 486.7,122.3 486.8,122.2 487.6,122.3 487.6,122.3 488.2,122.2 488.8,122.2 489.2,122.3 489.6,122.4 489.9,122.2 490.0,122.4 490.8,122.2 491.2,122.2 491.3,122.2 492.0,122.2 492.0,122.3 492.5,122.3 493.0,122.3 493.4,122.4 494.0,122.2 494.2,122.4 494.7,122.3 494.9,122.3 495.4,122.4 495.8,122.4 496.4,122.4 496.4,122.2 497.0,122.3 497.3,122.2 497.6,122.2 498.2,122.3 498.8,122.3 499.1,122.3 499.4,122.3 499.7,122.3 500.4,122.3 500.8,122.4 501.0,122.2" fill="none" stroke="#000" stroke-width="2.1" stroke-linejoin="miter" stroke-miterlimit="2.5"/>
<text class="r" transform="translate(305.8,45.6) rotate(-90) scale(0.85,1)" font-size="12.9" font-weight="bold" text-anchor="start">64</text>
<text class="r" transform="translate(305.0,125.8) rotate(-90) scale(1.0,1)" font-size="12" font-weight="bold" text-anchor="start">0</text>
<line x1="407" y1="66.4" x2="500.5" y2="66.4" stroke="#000" stroke-width="1.9"/>
<line x1="407" y1="62.900000000000006" x2="407" y2="69.9" stroke="#000" stroke-width="1.3"/>
<line x1="500.5" y1="62.900000000000006" x2="500.5" y2="69.9" stroke="#000" stroke-width="1.3"/>
<text transform="translate(456.2,63.7) scale(1.03,1)" font-size="17.2" font-weight="bold" text-anchor="middle" >34%</text>
<text transform="translate(456,80.7) scale(1.05,1)" font-size="14.8" font-weight="bold" text-anchor="middle" >Median 843</text>
<line x1="68.8" y1="273.4" x2="258.2" y2="273.4" stroke="#000" stroke-width="1.4"/>
<line x1="257.5" y1="273.4" x2="257.5" y2="276.4" stroke="#000" stroke-width="1.4"/>
<line x1="69.5" y1="191.3" x2="69.5" y2="277.4" stroke="#000" stroke-width="1.5"/>
<line x1="66.0" y1="192.0" x2="69.5" y2="192.0" stroke="#000" stroke-width="1.3"/>
<line x1="66.0" y1="212.3" x2="69.5" y2="212.3" stroke="#000" stroke-width="1.3"/>
<line x1="66.0" y1="232.7" x2="69.5" y2="232.7" stroke="#000" stroke-width="1.3"/>
<line x1="66.0" y1="253.0" x2="69.5" y2="253.0" stroke="#000" stroke-width="1.3"/>
<text x="62.4" y="286.8" font-size="12.3" class="t">10<tspan dx="0.2" dy="-4.9" font-size="8">0</tspan></text>
<line x1="115.7" y1="273.4" x2="115.7" y2="276.2" stroke="#000" stroke-width="1" stroke-opacity="0.75"/>
<text x="109.4" y="286.8" font-size="12.3" class="t">10<tspan dx="0.2" dy="-4.9" font-size="8">1</tspan></text>
<line x1="162.7" y1="273.4" x2="162.7" y2="276.2" stroke="#000" stroke-width="1" stroke-opacity="0.75"/>
<text x="156.4" y="286.8" font-size="12.3" class="t">10<tspan dx="0.2" dy="-4.9" font-size="8">2</tspan></text>
<line x1="209.7" y1="273.4" x2="209.7" y2="276.2" stroke="#000" stroke-width="1" stroke-opacity="0.75"/>
<text x="203.4" y="286.8" font-size="12.3" class="t">10<tspan dx="0.2" dy="-4.9" font-size="8">3</tspan></text>
<text x="250.4" y="286.8" font-size="12.3" class="t">10<tspan dx="0.2" dy="-4.9" font-size="8">4</tspan></text>
<polygon points="92.0,273.2 92.5,273.2 92.6,273.3 93.4,273.2 93.5,273.2 94.0,273.4 94.4,273.4 94.7,273.3 95.4,273.3 95.8,273.3 95.8,273.3 96.5,273.3 96.6,273.2 97.3,273.4 97.9,273.3 98.3,273.3 98.7,273.2 99.1,273.3 99.1,273.4 99.6,273.2 100.1,273.4 100.4,273.3 100.9,273.3 101.4,273.2 102.0,273.3 102.4,273.3 102.8,273.4 102.8,273.3 103.6,273.4 103.8,273.4 104.0,273.3 104.6,273.3 105.0,273.2 105.7,273.2 106.0,272.8 106.1,272.7 106.8,272.5 106.9,272.4 107.3,272.2 107.8,272.0 108.6,272.1 109.0,271.7 109.0,271.5 109.3,271.5 110.0,271.0 110.2,270.8 111.0,270.0 111.4,269.6 111.5,269.9 112.0,268.8 112.4,268.6 112.9,268.0 113.2,268.2 113.7,266.9 114.0,266.0 114.4,266.9 114.6,265.3 115.2,264.4 115.7,263.2 115.8,263.5 116.4,262.8 116.7,262.3 117.3,261.7 117.4,259.7 118.0,259.0 118.4,258.5 118.7,258.6 119.1,257.2 119.6,256.4 119.9,255.4 120.2,256.3 120.9,254.7 121.1,253.1 121.5,254.2 122.0,251.0 122.1,252.2 122.6,249.9 123.0,251.3 123.2,250.7 123.7,247.5 124.0,249.3 124.1,245.5 124.5,245.9 125.0,243.5 125.1,243.0 125.6,245.2 125.7,244.5 125.9,240.7 126.1,243.0 126.5,239.9 126.7,239.5 127.0,237.5 127.6,236.7 127.9,240.0 128.2,236.4 128.2,238.9 128.8,236.7 129.0,232.5 129.3,232.8 129.5,232.0 130.0,233.4 130.5,230.5 131.0,235.1 131.4,235.1 131.7,234.6 132.0,229.5 132.3,230.2 132.8,233.2 133.3,232.0 133.5,231.0 134.1,232.1 134.4,233.7 134.5,233.5 135.3,235.0 135.5,233.5 136.1,238.9 136.1,238.8 136.9,238.1 137.0,236.3 137.5,237.0 137.9,239.1 138.1,241.9 138.5,239.4 138.9,240.4 139.5,241.0 139.9,241.8 140.2,243.2 140.8,244.1 141.1,245.8 141.5,245.0 142.0,245.5 142.3,248.4 142.6,246.7 143.2,248.0 143.4,250.4 143.9,251.0 144.2,249.9 144.7,250.6 145.0,250.0 145.2,251.3 145.8,251.9 146.1,251.0 146.7,252.1 146.8,254.7 147.4,254.7 147.6,252.6 148.0,252.5 148.6,254.5 148.8,255.2 149.2,255.2 149.5,253.6 149.7,253.8 150.0,256.1 150.4,254.3 151.0,254.5 151.5,254.3 151.9,254.2 152.3,255.6 152.5,256.7 152.6,255.8 153.3,255.5 153.4,255.1 154.0,253.0 154.3,252.8 154.9,253.8 155.0,252.6 155.6,252.4 155.8,253.9 156.2,252.2 156.6,251.9 157.0,251.0 157.3,254.1 157.6,252.6 158.3,252.1 158.5,251.7 158.9,250.6 159.1,252.3 159.7,248.9 160.0,248.5 160.5,249.2 160.7,248.1 161.3,247.8 161.5,247.8 162.3,249.0 162.5,246.5 163.1,247.4 163.2,248.0 163.5,246.6 164.0,247.4 164.5,246.0 165.0,247.0 165.5,246.9 165.7,248.3 166.0,247.5 166.4,250.6 166.9,249.3 167.2,251.4 167.8,251.0 168.0,249.0 168.5,249.3 169.0,250.8 169.1,251.6 169.5,248.9 170.0,248.5 170.6,251.7 171.0,249.5 171.2,250.0 171.4,251.9 172.0,250.0 172.3,250.7 172.9,252.0 173.1,250.8 173.6,251.9 174.0,251.5 174.3,254.7 174.6,253.0 175.3,252.4 175.8,252.4 176.0,252.5 176.3,255.7 176.9,255.2 177.3,253.7 177.8,255.1 178.1,254.1 178.5,257.0 178.6,255.4 179.1,255.5 179.7,256.5 180.0,255.0 180.5,256.6 181.0,255.4 181.1,256.8 181.5,258.0 182.2,255.9 182.5,256.8 182.9,257.1 183.2,256.1 183.9,255.8 184.2,257.7 184.5,257.7 185.0,256.0 185.2,258.4 185.7,257.2 186.2,258.2 186.6,257.0 187.2,257.7 187.7,257.3 187.8,257.0 188.1,257.1 188.9,259.0 189.0,257.4 189.7,258.0 190.0,257.5 190.2,258.8 190.6,258.3 191.2,258.8 191.5,258.1 191.8,259.8 192.6,260.0 192.7,260.6 193.2,259.3 193.8,259.6 193.9,259.9 194.4,260.6 194.9,259.8 195.3,258.8 195.6,260.2 196.0,259.0 196.4,259.3 196.8,259.3 197.2,260.6 197.8,260.5 197.8,261.7 198.5,261.5 198.7,260.0 199.0,260.3 199.8,261.1 200.2,260.7 200.2,261.8 200.9,262.4 201.3,262.8 201.5,262.3 202.0,261.0 202.4,262.9 202.8,262.6 203.0,261.4 203.5,261.4 204.0,261.6 204.4,262.8 204.9,262.2 205.2,262.1 205.6,263.3 206.2,262.1 206.3,263.3 206.8,262.6 207.1,263.2 207.5,262.4 208.0,262.5 208.2,262.9 208.6,262.4 209.0,262.5 209.4,261.9 210.0,261.9 210.2,261.6 210.8,262.1 211.0,262.6 211.5,261.7 212.0,261.0 212.2,261.0 212.6,261.3 213.1,261.5 213.4,260.3 213.9,261.4 214.4,261.4 214.7,261.8 215.1,259.7 215.7,261.0 216.0,259.0 216.6,260.2 216.6,259.7 217.0,258.4 217.4,258.4 218.1,258.0 218.3,260.1 218.8,260.2 219.4,259.3 219.4,259.7 220.0,257.0 220.2,259.7 220.9,257.8 221.1,257.6 221.6,258.2 221.7,260.3 222.4,259.7 222.7,260.3 223.0,258.5 223.2,259.6 223.7,261.0 224.0,260.1 224.6,261.6 224.8,262.0 225.1,261.8 225.4,262.8 226.0,262.0 226.2,263.4 227.0,262.8 227.4,263.9 227.6,264.8 228.1,265.1 228.3,264.1 228.7,264.1 229.0,266.0 229.4,265.4 230.0,265.0 230.2,265.3 230.9,265.4 231.0,266.2 231.9,265.8 232.1,266.0 232.6,266.4 233.1,266.8 233.2,266.9 233.5,266.6 234.0,267.7 234.8,266.8 235.0,267.0 235.4,267.2 236.0,267.5 236.3,268.1 236.9,268.5 237.1,268.1 237.3,268.3 238.0,269.0 238.2,269.2 238.7,268.9 239.0,269.3 239.6,269.0 240.0,269.0 240.4,269.8 240.9,269.8 241.1,269.5 241.5,270.5 241.8,269.9 242.2,269.9 242.9,270.7 243.4,270.7 243.8,270.6 244.0,270.6 244.6,271.2 244.8,271.3 245.2,271.2 245.8,271.5 246.0,271.0 246.2,271.2 246.7,271.6 247.3,271.6 247.7,271.6 248.0,271.8 248.5,272.0 248.7,272.2 249.1,272.2 249.4,272.4 250.1,272.5 250.6,272.7 251.0,273.0 251.0,272.9 251.6,273.1 252.0,273.2 252.6,273.2 252.8,273.2 253.4,273.4 253.5,273.2 253.8,273.3 254.5,273.2 254.7,273.3 255.2,273.2 255.7,273.3 256.3,273.4 256.4,273.4 257.0,273.2" fill="#d2d2d2" stroke="#000" stroke-width="1.8" stroke-linejoin="miter" stroke-miterlimit="2.5"/>
<polyline points="88.0,273.2 88.3,273.3 89.0,273.3 89.0,273.3 89.5,273.3 90.3,273.2 90.2,273.4 90.9,273.4 91.1,273.2 91.6,273.3 92.1,273.3 92.6,273.2 93.1,273.4 93.1,273.3 93.5,273.2 94.0,273.4 94.7,273.2 94.9,273.2 95.1,273.3 95.9,273.3 96.0,273.2 96.3,273.2 97.1,273.3 97.4,273.3 97.6,273.4 98.1,273.3 98.4,273.3 98.8,273.3 99.5,273.2 99.7,273.4 100.1,273.2 100.7,273.2 101.0,273.2 101.2,273.1 102.0,272.9 102.2,272.8 102.6,272.5 103.2,272.3 103.4,272.1 103.9,271.9 104.3,272.0 104.8,272.1 105.2,271.4 105.6,271.8 106.0,271.0 106.4,270.9 106.8,270.5 107.2,270.3 107.5,269.9 108.3,269.5 108.2,269.1 108.9,268.5 109.1,268.1 109.7,267.8 110.1,268.9 110.5,267.0 110.9,266.9 111.5,266.7 111.7,266.0 112.3,265.3 112.4,263.6 113.0,263.9 113.3,263.3 113.7,263.3 114.3,262.6 114.5,260.0 115.1,260.9 115.4,258.4 115.8,259.6 115.8,259.9 116.1,257.7 116.9,256.6 117.0,254.5 117.3,253.5 117.6,253.0 118.3,255.8 118.5,251.0 118.8,252.6 119.2,250.5 119.3,250.3 119.8,248.7 119.9,249.2 120.5,248.4 120.7,249.3 120.9,244.7 121.0,243.9 121.5,243.0 121.8,245.6 122.1,242.1 122.3,242.4 122.6,240.4 123.0,239.9 123.1,239.9 123.4,239.1 123.8,239.8 123.9,239.9 124.5,239.1 124.5,234.0 125.0,233.2 124.9,237.2 125.4,232.6 125.9,234.8 126.0,230.7 126.5,229.0 127.1,233.1 127.4,228.2 127.5,233.5 128.1,229.1 128.5,225.5 128.7,225.8 129.3,231.6 129.8,228.8 130.0,226.5 130.1,227.2 130.5,229.5 131.3,227.9 131.5,224.5 131.7,225.4 132.5,228.8 132.5,233.2 133.1,232.8 133.5,227.0 133.8,229.7 134.5,226.7 134.8,230.2 135.3,230.1 135.5,225.5 135.8,231.5 136.3,229.7 136.7,228.1 137.3,228.6 137.5,229.0 138.1,232.4 138.2,234.9 138.5,232.2 139.0,231.5 139.5,232.0 140.0,233.1 140.1,234.6 140.5,239.9 141.1,237.5 141.5,235.5 141.8,236.0 142.2,239.6 142.8,239.9 143.0,236.0 143.3,238.9 144.0,238.9 143.9,238.6 144.3,243.1 145.0,238.2 145.3,238.5 145.7,240.6 145.9,238.0 146.0,238.9 145.9,237.5 146.5,234.8 146.4,237.2 146.8,235.9 147.0,232.0 147.1,231.8 147.2,236.8 147.6,235.0 147.9,229.0 148.1,228.1 148.3,228.6 148.3,230.9 148.8,229.2 148.7,225.0 149.2,225.2 149.2,224.1 149.7,226.0 150.1,223.6 150.1,220.9 150.7,220.0 151.3,224.7 151.4,219.1 151.9,218.2 152.4,221.8 152.7,217.0 153.0,216.6 153.3,218.4 153.8,215.5 154.2,217.7 154.5,214.5 154.7,216.3 155.0,218.4 155.5,216.9 155.8,217.5 156.3,217.3 156.7,222.4 157.0,219.4 157.3,215.5 157.7,219.1 157.9,221.0 158.1,221.8 158.2,219.2 158.5,223.7 158.8,220.0 159.0,224.9 159.8,222.7 160.1,222.9 160.5,223.2 160.8,224.0 161.2,230.2 161.4,226.8 161.5,226.6 161.7,228.6 161.8,228.6 162.3,230.9 162.7,232.0 162.7,230.0 162.8,234.0 163.0,237.5 163.5,234.1 163.7,239.1 164.0,235.1 164.3,238.7 164.2,238.9 164.6,236.0 164.9,238.3 165.2,241.9 164.9,241.7 165.2,239.1 165.4,241.3 165.8,244.0 165.9,242.5 166.0,242.0 166.0,243.3 166.5,244.7 166.6,246.6 166.7,248.8 167.1,250.5 167.2,248.5 167.3,251.2 167.5,248.6 167.8,250.4 167.8,250.0 167.9,251.0 168.2,252.4 168.7,252.9 168.9,253.2 168.9,254.5 169.5,256.4 169.9,257.6 170.0,256.0 170.6,257.5 170.9,257.2 171.0,258.5 171.7,259.1 171.9,258.8 172.1,259.4 172.7,262.0 173.3,261.6 173.5,261.0 174.1,263.1 174.2,263.7 174.9,262.3 175.2,263.9 175.3,264.5 175.8,264.8 176.2,264.3 176.5,265.2 177.0,265.0 177.2,266.1 177.9,266.3 178.1,267.2 178.5,266.4 179.1,266.6 179.4,266.8 179.6,268.3 180.4,267.5 180.7,267.9 181.0,268.0 181.3,268.2 181.9,268.3 182.2,268.9 182.8,269.0 182.9,269.0 183.6,269.0 183.8,269.8 184.6,269.7 184.9,269.8 185.2,269.9 185.7,270.5 186.0,270.0 186.4,270.1 186.7,270.7 187.2,270.8 187.6,270.3 187.9,270.8 188.6,270.6 188.8,271.0 189.2,270.7 189.5,270.8 189.8,271.0 190.1,271.5 190.8,271.7 191.2,271.3 191.7,271.4 192.1,271.5 192.3,271.8 192.7,272.1 193.0,271.5 193.3,271.6 193.6,272.0 194.0,271.8 194.4,271.9 195.1,272.1 195.5,272.0 195.9,272.1 196.2,272.1 196.7,272.2 197.1,272.2 197.4,272.2 197.7,272.3 198.3,272.4 198.6,272.5 199.1,272.6 199.5,272.5 199.7,272.7 199.9,272.8 200.3,272.8 200.9,272.8 201.3,272.8 201.4,272.8 201.9,273.0 202.5,273.0 202.8,273.1 203.1,273.2 203.7,273.3 204.0,273.2 204.6,273.3 204.8,273.3 205.2,273.2 205.4,273.3 206.0,273.3 206.2,273.3 206.9,273.2 207.0,273.2 207.4,273.4 208.2,273.3 208.5,273.4 208.8,273.2 209.2,273.4 209.7,273.3 210.0,273.3 210.4,273.3 210.6,273.2 211.5,273.2 211.6,273.2 211.8,273.4 212.4,273.2 212.8,273.3 213.1,273.2 213.5,273.3 214.2,273.2 214.4,273.3 214.7,273.4 215.3,273.4 215.4,273.3 215.9,273.3 216.5,273.3 216.7,273.2 217.4,273.4 217.9,273.2 218.1,273.2 218.6,273.3 219.0,273.3 219.4,273.2 219.7,273.3 220.1,273.2 220.5,273.2 220.8,273.3 221.0,273.3 221.7,273.2 222.1,273.3 222.4,273.4 222.9,273.4 223.1,273.3 223.8,273.3 224.0,273.2 224.4,273.2 225.1,273.2 225.1,273.3 225.5,273.3 225.8,273.4 226.6,273.3 226.7,273.2 227.3,273.4 227.5,273.3 228.3,273.2 228.3,273.2 228.9,273.3 229.3,273.2 229.9,273.3 229.9,273.3 230.7,273.3 230.8,273.4 231.1,273.3 231.5,273.4 232.3,273.3 232.7,273.3 232.9,273.2 233.1,273.4 233.9,273.4 234.2,273.2 234.4,273.2 235.0,273.3 235.2,273.2 235.8,273.2 236.3,273.3 236.3,273.3 236.7,273.2 237.4,273.2 237.8,273.3 238.1,273.4 238.4,273.2 239.0,273.3 239.5,273.2 239.6,273.2 240.2,273.3 240.5,273.4 240.9,273.3 241.6,273.2 241.8,273.3 242.3,273.2 242.3,273.3 242.9,273.2 243.2,273.3 243.8,273.4 244.2,273.4 244.4,273.3 244.8,273.2 245.1,273.2 245.7,273.4 245.9,273.3 246.5,273.4 247.0,273.3 247.3,273.3 247.7,273.2 247.9,273.3 248.4,273.2 249.1,273.3 249.5,273.3 249.7,273.2 250.2,273.4 250.4,273.2 250.8,273.4 251.3,273.2 252.0,273.3 252.4,273.3 252.7,273.2 252.8,273.3 253.6,273.3 253.7,273.2 254.2,273.3 254.8,273.3 255.1,273.2 255.6,273.3 256.0,273.2 256.3,273.4 256.7,273.4 257.0,273.2" fill="none" stroke="#000" stroke-width="2.1" stroke-linejoin="miter" stroke-miterlimit="2.5"/>
<text class="r" transform="translate(62.7,197.6) rotate(-90) scale(0.765,1)" font-size="13.4" font-weight="bold" text-anchor="start">64</text>
<text class="r" transform="translate(61.9,277.2) rotate(-90) scale(1.0,1)" font-size="12" font-weight="bold" text-anchor="start">0</text>
<line x1="176.4" y1="213.8" x2="255.6" y2="213.8" stroke="#000" stroke-width="1.9"/>
<line x1="176.4" y1="210.3" x2="176.4" y2="217.3" stroke="#000" stroke-width="1.3"/>
<line x1="255.6" y1="210.3" x2="255.6" y2="217.3" stroke="#000" stroke-width="1.3"/>
<text transform="translate(216.7,211.2) scale(1.1,1)" font-size="16.4" font-weight="bold" text-anchor="middle" >33%</text>
<text transform="translate(215.6,227.8) scale(1.035,1)" font-size="14.8" font-weight="bold" text-anchor="middle" >Median 750</text>
<line x1="317.8" y1="273.7" x2="505.7" y2="273.7" stroke="#000" stroke-width="1.4"/>
<line x1="505" y1="273.7" x2="505" y2="276.7" stroke="#000" stroke-width="1.4"/>
<line x1="361.9" y1="273.7" x2="361.9" y2="276.5" stroke="#000" stroke-width="1" stroke-opacity="0.75"/>
<text x="355.6" y="287.3" font-size="12.3" class="t">10<tspan dx="0.2" dy="-4.9" font-size="8">1</tspan></text>
<line x1="410.4" y1="273.7" x2="410.4" y2="276.5" stroke="#000" stroke-width="1" stroke-opacity="0.75"/>
<text x="404.1" y="287.3" font-size="12.3" class="t">10<tspan dx="0.2" dy="-4.9" font-size="8">2</tspan></text>
<line x1="458.9" y1="273.7" x2="458.9" y2="276.5" stroke="#000" stroke-width="1" stroke-opacity="0.75"/>
<text x="452.6" y="287.3" font-size="12.3" class="t">10<tspan dx="0.2" dy="-4.9" font-size="8">3</tspan></text>
<text x="501.1" y="287.3" font-size="12.3" class="t">10<tspan dx="0.2" dy="-4.9" font-size="8">4</tspan></text>
<polygon points="334.0,273.5 334.2,273.5 334.8,273.5 335.4,273.7 335.5,273.6 335.9,273.6 336.2,273.5 337.0,273.5 337.4,273.6 337.4,273.6 338.0,273.5 338.6,273.2 338.5,272.9 339.2,272.5 339.3,272.2 339.7,271.8 340.4,271.8 340.5,271.2 341.0,270.5 341.5,270.7 341.7,269.7 342.1,269.3 342.4,268.3 342.6,268.6 343.3,267.1 343.6,266.8 344.0,266.0 344.2,266.9 344.7,264.9 345.1,264.7 345.7,263.4 346.0,262.6 346.2,263.4 346.7,260.8 347.3,261.6 347.5,259.5 348.0,258.5 348.5,257.8 349.0,259.4 349.4,258.0 349.5,255.5 350.1,257.7 350.6,254.8 351.0,254.8 351.0,253.0 351.4,252.7 352.0,251.0 352.1,251.1 352.6,250.0 353.1,252.0 353.3,249.5 353.8,252.2 354.0,248.3 354.5,247.5 355.0,247.0 355.4,246.6 356.1,246.5 356.3,245.8 356.6,248.0 357.1,248.9 357.5,244.3 357.9,244.1 358.5,244.2 358.7,246.8 359.0,243.3 359.5,243.0 360.1,243.9 360.1,244.1 360.7,248.2 361.1,249.0 361.5,245.3 362.0,248.7 362.1,247.8 362.9,247.4 363.3,251.0 363.5,248.3 364.0,251.6 364.3,252.2 364.8,252.0 365.4,251.2 365.4,254.6 366.0,252.0 366.1,254.4 366.6,256.1 367.2,257.1 367.3,254.8 367.9,256.9 368.5,258.0 368.4,257.1 369.0,257.5 369.2,259.9 369.9,259.9 370.2,260.4 370.5,260.6 370.9,260.1 371.5,261.1 371.8,260.0 372.0,259.5 372.6,260.8 373.0,260.0 373.3,260.2 373.8,261.7 374.4,260.3 374.5,262.1 375.0,261.3 375.4,262.1 375.9,260.8 376.1,262.9 376.8,260.8 377.2,262.7 377.8,261.5 378.0,261.0 378.3,262.9 379.0,261.5 379.4,261.8 379.9,261.5 379.9,261.6 380.4,262.2 381.1,262.4 381.1,262.9 381.8,262.1 382.3,262.5 382.4,262.6 383.0,262.0 383.6,262.5 383.9,264.2 384.3,263.3 384.9,262.5 385.3,262.8 385.7,262.6 386.0,263.7 386.2,262.9 386.7,263.8 387.0,263.5 387.4,262.5 388.0,262.5 388.3,264.1 388.7,263.1 389.0,263.0 389.8,262.4 390.1,261.9 390.3,262.0 390.6,261.5 391.4,263.4 391.8,262.7 392.0,261.0 392.4,261.9 393.0,261.8 393.4,262.2 393.7,260.7 394.1,261.8 394.6,261.5 395.0,260.7 395.2,260.8 395.7,262.1 396.0,260.0 396.5,260.6 397.0,262.7 397.2,261.0 397.5,262.3 397.8,261.3 398.4,261.1 398.9,262.3 399.4,261.6 399.4,262.4 400.0,261.5 400.6,263.6 400.7,262.3 401.1,261.3 401.9,261.4 402.2,263.0 402.4,261.1 403.1,261.3 403.5,261.0 403.8,262.0 404.0,262.8 404.4,261.4 405.0,260.5 405.2,260.8 406.1,260.3 406.4,260.5 406.8,261.4 407.3,261.1 407.6,261.7 408.0,260.6 408.4,261.0 408.6,260.2 409.2,261.2 409.4,259.2 410.0,259.0 410.5,259.4 410.7,260.8 411.2,259.2 411.9,258.5 412.3,258.4 412.3,258.4 413.1,260.2 413.4,258.3 413.9,258.7 414.3,257.9 414.7,260.3 415.0,257.5 415.6,258.0 415.9,259.3 416.3,257.2 416.6,259.4 417.3,258.3 417.3,258.0 417.8,258.0 418.4,258.7 418.9,256.8 419.1,257.6 419.8,258.3 420.0,256.0 420.5,257.3 420.8,257.0 421.2,258.4 421.8,255.4 422.1,256.2 422.4,256.3 422.7,255.1 423.5,256.8 423.6,256.2 424.3,257.4 424.3,255.2 425.0,254.0 425.2,255.3 425.6,255.5 426.0,254.3 426.8,253.6 427.2,254.8 427.3,253.0 427.6,253.8 428.4,252.8 428.8,253.9 429.0,251.5 429.5,253.3 429.6,251.2 430.3,249.6 430.5,249.0 430.8,252.1 431.4,252.2 431.7,251.8 432.0,252.0 432.3,252.0 433.0,252.4 433.3,252.0 433.8,251.9 433.8,251.9 434.6,252.0 435.0,253.5 435.0,252.7 435.6,252.2 436.0,251.5 436.6,251.9 437.0,251.7 437.2,252.1 437.8,253.5 438.2,251.8 438.5,252.0 438.9,251.9 439.1,252.1 439.5,252.0 440.0,252.0 440.3,253.5 440.7,255.2 441.5,252.0 441.8,254.9 441.9,254.9 442.6,254.5 443.1,253.2 443.2,251.4 443.7,251.4 444.2,252.5 444.7,251.8 445.0,251.0 445.2,251.1 445.7,251.4 446.1,252.6 446.6,252.8 447.2,251.9 447.3,254.4 448.2,251.9 448.1,251.6 448.9,251.6 449.4,253.5 449.4,252.6 450.0,251.5 450.2,252.1 450.8,251.9 451.2,251.7 451.4,251.0 452.1,253.2 452.2,251.5 452.8,251.0 453.2,253.3 453.6,253.6 454.0,250.0 454.4,251.7 454.6,252.3 455.4,251.1 455.4,250.4 455.9,250.5 456.3,251.3 456.6,252.1 457.3,251.1 457.8,251.8 458.0,250.5 458.4,251.0 458.7,251.6 459.0,252.9 459.4,251.0 460.0,252.8 460.2,253.2 460.8,251.6 461.4,249.3 461.4,252.2 462.0,249.0 462.4,250.6 462.5,249.2 463.3,249.8 463.5,248.8 464.0,248.9 464.4,251.9 464.6,248.7 465.0,248.0 465.6,251.5 465.8,249.1 466.2,249.6 466.5,253.2 467.0,250.5 467.2,253.5 468.0,254.4 467.9,255.2 468.4,252.3 468.8,253.9 469.3,253.2 469.7,255.3 470.0,254.0 470.2,256.5 470.7,256.3 471.4,256.3 471.6,257.5 472.1,258.1 472.5,258.5 473.1,259.1 473.5,259.8 473.7,261.2 474.1,261.2 474.6,262.9 475.0,262.0 475.2,263.4 475.8,263.4 476.2,263.9 476.3,264.3 477.0,265.6 477.5,265.3 477.5,265.1 478.0,265.0 478.3,265.6 478.8,265.9 479.1,266.3 479.5,267.2 480.1,268.0 480.5,267.4 480.5,267.6 480.9,269.2 481.5,268.3 482.0,268.6 482.1,269.3 482.9,269.3 482.9,269.7 483.6,270.1 483.6,270.2 484.0,271.0 484.4,270.7 485.0,271.0 485.4,271.7 485.7,272.1 486.3,271.9 486.5,272.0 487.0,272.4 487.6,272.6 487.9,272.8 488.0,273.0 488.5,273.3 489.0,273.5 489.4,273.5 489.9,273.6 490.1,273.7 490.8,273.6 491.2,273.5 491.6,273.5 492.0,273.7 492.3,273.6 492.7,273.6 493.0,273.5 493.6,273.6 493.7,273.5 494.4,273.5 494.7,273.6 494.8,273.5 495.6,273.6 495.8,273.5 496.4,273.5 496.8,273.5 497.1,273.5 497.4,273.6 497.7,273.6 498.1,273.5 498.7,273.5 499.1,273.6 499.5,273.7 500.0,273.6 500.3,273.7 500.6,273.5 501.1,273.6 501.5,273.7 501.7,273.6 502.0,273.6 502.4,273.6 503.2,273.5 503.3,273.7 504.0,273.5 504.0,273.6 504.8,273.6 505.0,273.5" fill="#d2d2d2" stroke="#000" stroke-width="1.8" stroke-linejoin="miter" stroke-miterlimit="2.5"/>
<polyline points="324.0,273.5 324.4,273.7 324.8,273.6 325.2,273.5 325.7,273.6 325.9,273.5 326.6,273.5 326.6,273.6 327.4,273.7 327.7,273.6 328.0,273.5 328.2,273.6 328.7,273.5 329.2,273.5 329.8,273.6 330.1,273.6 330.5,273.6 330.7,273.6 331.4,273.7 331.7,273.7 332.0,273.5 332.2,273.3 332.8,273.1 333.1,272.9 333.8,272.7 333.9,272.3 334.4,272.7 334.7,272.6 335.3,271.5 335.5,272.0 336.0,271.0 336.5,271.9 336.6,270.4 336.9,270.1 337.3,270.8 337.8,270.1 338.4,269.2 338.7,268.9 339.0,268.5 339.3,267.9 340.0,269.1 340.4,266.6 340.6,265.7 341.2,266.9 341.5,264.0 341.6,263.5 341.9,264.7 342.0,262.2 342.5,261.1 342.8,260.6 343.0,260.3 343.2,262.6 343.5,258.0 343.6,257.5 344.1,260.3 344.0,256.1 344.6,257.8 344.9,254.3 344.9,257.4 344.9,253.6 345.5,251.5 345.6,251.2 345.9,250.5 346.0,249.0 346.3,248.6 346.3,247.5 346.8,249.2 346.8,248.9 347.0,250.9 347.2,244.3 347.3,245.5 347.7,243.2 348.0,242.0 348.4,242.6 348.6,247.6 348.8,243.8 348.8,239.1 349.5,238.0 349.7,241.7 349.8,236.3 350.0,235.5 350.5,236.0 350.5,234.0 351.0,238.4 351.1,237.7 351.5,237.6 351.6,232.3 351.9,237.6 352.0,229.0 352.2,235.7 352.2,231.9 352.5,230.7 352.7,226.0 352.9,234.8 352.8,230.3 353.1,229.6 353.4,225.4 353.5,222.0 353.5,221.0 353.5,223.5 353.7,225.5 354.0,223.7 353.7,219.1 354.1,218.7 354.0,217.2 354.4,225.3 354.6,217.9 354.5,214.0 354.6,214.1 355.0,220.9 354.9,221.5 355.1,216.1 355.3,210.7 355.5,209.5 355.8,217.3 355.6,212.6 355.7,215.1 355.9,213.6 356.1,218.9 356.4,216.0 356.3,226.0 356.2,215.9 356.3,225.5 356.7,223.6 356.8,218.0 356.8,217.3 357.0,219.7 357.3,224.2 357.4,215.5 357.8,219.8 358.0,213.5 358.3,222.5 358.1,221.4 358.2,219.4 358.4,216.8 358.4,224.1 358.6,219.9 358.8,225.4 359.0,225.1 359.0,221.0 358.9,229.3 359.4,229.0 359.4,219.0 359.8,223.0 359.8,219.3 360.0,225.3 360.0,225.7 360.2,214.5 360.5,222.1 360.6,221.7 360.8,217.9 361.0,228.5 361.1,222.7 361.3,221.2 361.1,228.6 361.3,221.4 361.5,222.0 361.4,226.1 361.6,230.9 361.8,231.5 362.3,227.1 362.2,226.6 362.5,227.0 362.8,235.0 362.8,237.3 362.8,238.0 363.2,231.2 363.4,232.4 363.5,232.0 363.9,239.0 364.2,233.9 364.8,239.4 365.0,233.0 365.4,241.8 365.7,237.7 366.2,237.9 366.4,239.1 367.0,236.0 367.6,237.7 367.8,238.9 368.0,240.0 368.6,238.3 369.0,235.0 369.4,235.6 369.8,234.5 370.4,240.0 370.5,236.0 371.0,233.0 371.2,240.9 371.6,239.2 372.1,234.2 372.5,238.5 373.0,234.0 373.4,233.5 373.5,232.8 373.6,232.7 374.0,234.3 374.2,232.2 374.3,232.8 374.8,229.5 375.0,228.0 375.5,234.6 375.7,234.0 376.4,231.7 376.5,233.3 377.0,224.0 377.6,224.6 377.6,231.8 378.3,224.1 378.4,224.0 379.0,222.5 379.2,230.2 379.9,226.3 380.1,224.6 380.8,230.7 381.0,226.0 381.5,228.7 381.9,228.1 382.0,224.9 382.4,223.9 383.0,223.0 383.2,226.9 383.7,223.1 384.4,230.0 384.4,231.0 385.0,221.5 385.5,225.2 385.8,224.6 386.2,227.1 386.4,228.8 387.0,225.0 387.3,226.5 387.6,232.6 387.8,228.2 388.1,231.6 388.8,236.9 389.0,230.0 389.2,235.1 389.5,235.4 389.9,240.8 390.2,234.0 390.4,239.1 390.5,240.6 390.9,242.3 391.0,236.0 391.2,242.0 391.2,242.3 391.7,239.7 391.8,239.1 392.2,243.6 392.6,241.4 392.5,245.3 392.8,245.9 393.0,243.0 393.3,250.7 393.6,248.4 393.4,251.8 394.0,249.1 394.1,247.6 394.2,247.7 394.4,249.7 395.0,249.9 395.0,250.0 395.3,256.1 395.7,257.0 395.7,256.1 396.4,255.3 396.8,253.8 396.9,254.8 397.2,255.5 397.5,256.0 397.9,260.9 398.4,259.2 398.6,259.3 399.2,261.4 399.7,260.7 400.0,261.0 400.2,261.9 400.9,262.3 401.4,263.4 401.3,265.2 402.2,266.7 402.5,264.4 402.7,265.6 403.0,268.0 403.5,266.0 403.9,267.7 404.5,268.9 404.5,267.9 405.1,268.2 405.3,267.7 405.7,268.5 406.4,268.6 406.6,268.9 407.1,269.5 407.5,269.0 408.1,270.8 408.2,270.3 408.9,269.5 409.1,270.6 409.4,270.0 409.9,270.7 410.3,270.6 410.5,271.0 411.3,270.4 411.6,271.6 411.6,270.6 412.2,270.9 412.4,271.4 413.0,271.0 413.5,271.1 413.9,271.6 414.2,271.6 414.6,271.5 415.2,272.2 415.3,271.7 415.9,272.4 416.1,272.5 416.6,272.2 417.0,272.7 417.7,272.4 417.9,272.4 418.5,272.6 418.7,272.6 419.3,272.7 419.3,272.8 419.9,273.0 420.3,273.2 420.6,273.3 421.3,273.3 421.5,273.4 422.0,273.5 422.2,273.5 422.9,273.5 423.0,273.5 423.6,273.6 424.2,273.7 424.4,273.7 424.7,273.6 425.1,273.5 425.8,273.7 425.9,273.5 426.3,273.5 426.7,273.5 427.2,273.5 427.6,273.6 428.0,273.7 428.5,273.5 428.7,273.7 429.2,273.5 429.6,273.6 430.1,273.7 430.2,273.6 430.9,273.6 431.0,273.5 431.8,273.6 432.0,273.5 432.5,273.5 432.6,273.6 433.3,273.5 433.7,273.6 433.9,273.5 434.5,273.7 434.8,273.6 435.3,273.6 435.5,273.7 436.0,273.6 436.5,273.7 437.0,273.6 437.2,273.7 437.7,273.6 437.9,273.6 438.2,273.6 439.0,273.6 439.0,273.5 439.5,273.5 440.2,273.5 440.3,273.5 440.8,273.5 441.0,273.6 441.5,273.5 442.2,273.6 442.2,273.5 442.6,273.5 443.3,273.5 443.4,273.6 443.8,273.5 444.5,273.5 444.8,273.5 445.1,273.6 445.7,273.5 445.9,273.7 446.6,273.6 446.6,273.6 447.4,273.5 447.5,273.6 447.9,273.6 448.6,273.5 448.6,273.6 449.1,273.5 449.7,273.5 450.0,273.6 450.2,273.5 450.6,273.5 451.1,273.7 451.8,273.6 451.9,273.5 452.5,273.5 452.9,273.5 453.3,273.7 453.4,273.5 453.7,273.6 454.3,273.6 454.8,273.7 455.0,273.7 455.5,273.6 455.7,273.7 456.2,273.6 456.7,273.6 457.3,273.5 457.4,273.5 457.8,273.5 458.4,273.6 458.8,273.5 459.1,273.5 459.7,273.6 460.0,273.6 460.2,273.5 460.6,273.6 461.1,273.6 461.8,273.5 461.8,273.6 462.2,273.6 462.7,273.5 463.0,273.5 463.6,273.5 463.7,273.5 464.2,273.6 464.7,273.7 465.0,273.6 465.3,273.6 465.7,273.5 466.4,273.6 466.6,273.5 467.1,273.7 467.4,273.5 467.7,273.5 468.1,273.5 468.7,273.7 469.2,273.6 469.6,273.6 469.8,273.5 470.0,273.5 470.8,273.5 471.2,273.7 471.5,273.6 471.8,273.5 472.4,273.5 472.6,273.5 473.2,273.6 473.5,273.6 474.0,273.5 474.3,273.7 474.7,273.5 475.2,273.5 475.5,273.7 476.0,273.6 476.5,273.5 476.5,273.6 476.9,273.5 477.6,273.6 478.1,273.5 478.2,273.5 478.9,273.5 479.3,273.5 479.5,273.6 479.7,273.6 480.5,273.7 480.7,273.6 481.2,273.5 481.7,273.5 481.9,273.5 482.1,273.6 482.4,273.6 482.9,273.5 483.7,273.7 483.8,273.6 484.4,273.6 484.7,273.5 484.8,273.6 485.4,273.5 485.8,273.5 486.1,273.6 486.5,273.6 487.0,273.6 487.2,273.6 487.7,273.6 488.3,273.7 488.6,273.6 489.1,273.6 489.6,273.6 490.1,273.6 490.4,273.7 490.6,273.5 491.2,273.6 491.4,273.6 492.0,273.6 492.0,273.5 492.8,273.6 493.1,273.6 493.3,273.6 493.6,273.6 494.2,273.5 494.6,273.6 495.1,273.5 495.3,273.6 495.8,273.5 496.0,273.5 496.9,273.7 497.2,273.6 497.6,273.6 497.9,273.5 498.4,273.6 498.8,273.5 499.0,273.5 499.2,273.7 499.7,273.5 500.0,273.5 500.8,273.7 500.9,273.5 501.2,273.6 502.0,273.5 502.2,273.5 502.8,273.7 502.9,273.6 503.6,273.5 503.7,273.7 504.1,273.7 504.4,273.6 505.0,273.5" fill="none" stroke="#000" stroke-width="2.1" stroke-linejoin="miter" stroke-miterlimit="2.5"/>
<g clip-path="url(#c4)"><text x="307.4" y="286.7" font-size="12.3" class="t">10<tspan dx="2.3" dy="-4.9" font-size="8">0</tspan></text></g>
<line x1="403" y1="214.5" x2="504.5" y2="214.5" stroke="#000" stroke-width="1.9"/>
<line x1="403" y1="211.0" x2="403" y2="218.0" stroke="#000" stroke-width="1.3"/>
<line x1="504.5" y1="211.0" x2="504.5" y2="218.0" stroke="#000" stroke-width="1.3"/>
<text transform="translate(455.8,212.3) scale(1.09,1)" font-size="16.4" font-weight="bold" text-anchor="middle" >59%</text>
<text transform="translate(455,228.6) scale(1.04,1)" font-size="14.8" font-weight="bold" text-anchor="middle" >Median 533</text>
</svg>
</body></html>
